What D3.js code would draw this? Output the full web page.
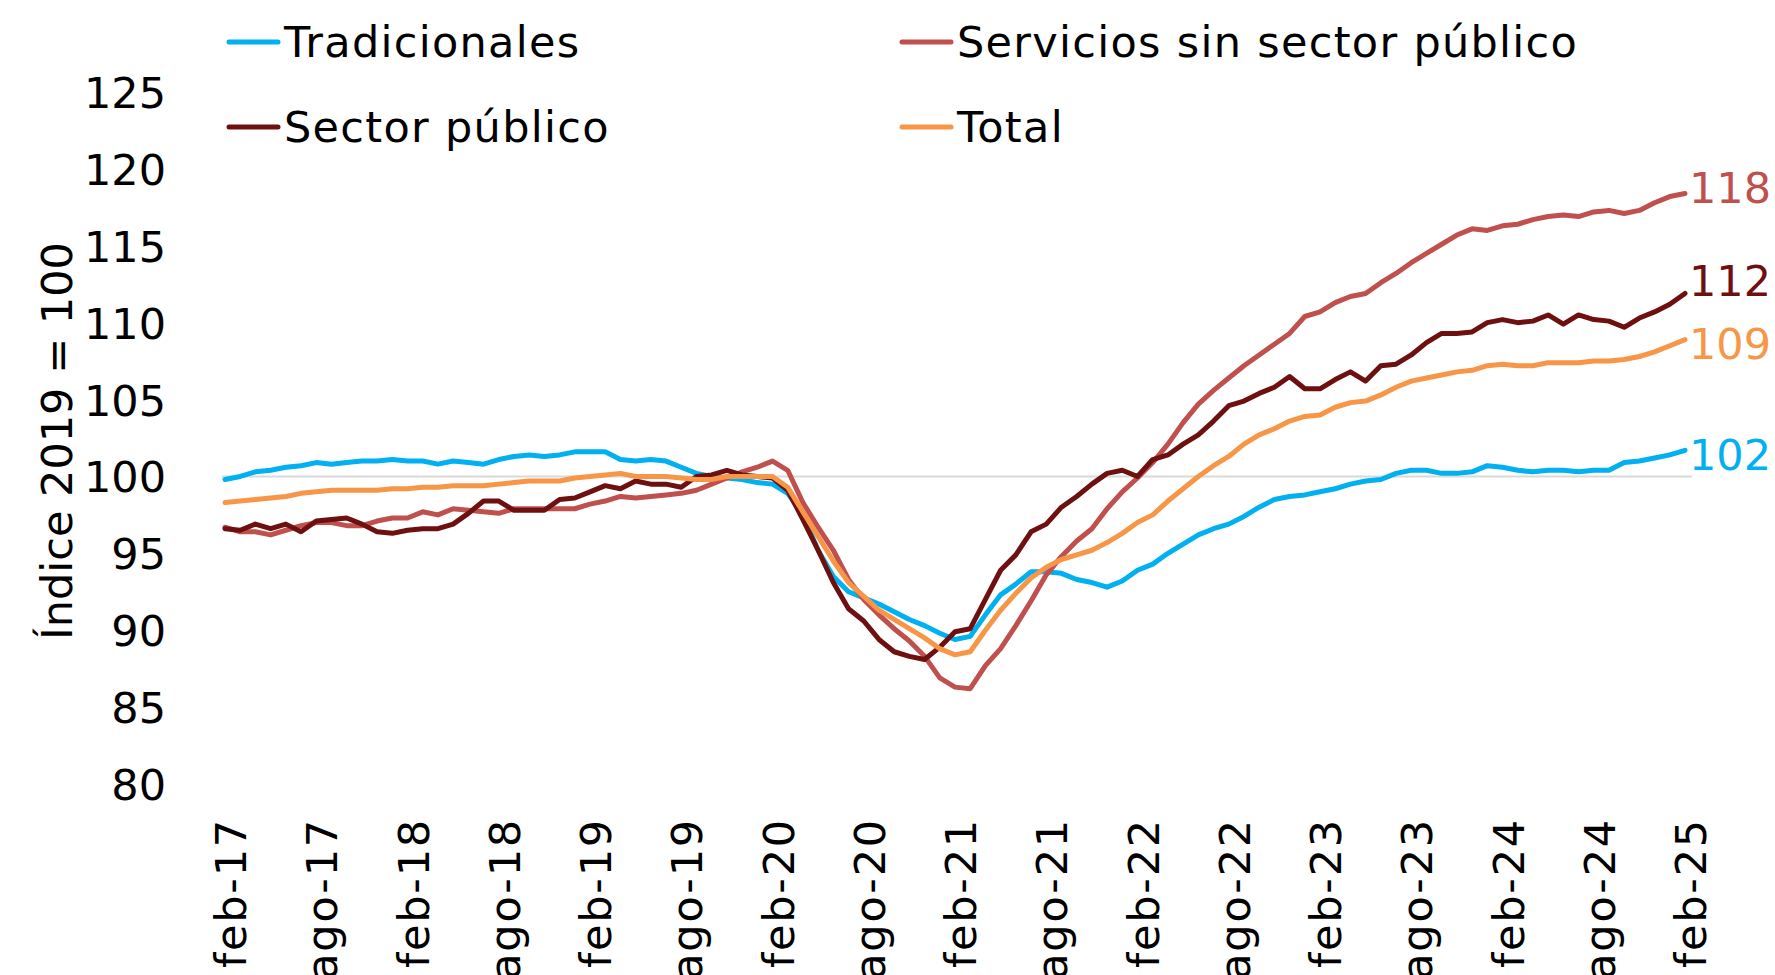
<!DOCTYPE html>
<html lang="es">
<head>
    <meta charset="UTF-8">
    <title>Índice 2019 = 100</title>
    <script src="https://d3js.org/d3.v7.min.js"></script>
    <style>
        body { margin: 0; background: #fff; }
        svg { display: block; font-family: "DejaVu Sans", sans-serif; }
    </style>
</head>
<body>
    <svg id="chart"></svg>

    <script>
        // meses: feb-17 ... feb-25
        const monthAbbr = ["ene", "feb", "mar", "abr", "may", "jun", "jul", "ago", "sep", "oct", "nov", "dic"];
        const firstYear = 2017, firstMonth = 1, nMonths = 97;
        const categories = [];
        for (let k = 0; k < nMonths; k++) {
            const m = (firstMonth + k) % 12;
            const y = firstYear + Math.floor((firstMonth + k) / 12);
            categories.push(`${monthAbbr[m]}-${String(y).slice(2)}`);
        }

        const tickLabels = ["feb-17", "ago-17", "feb-18", "ago-18", "feb-19", "ago-19", "feb-20", "ago-20",
            "feb-21", "ago-21", "feb-22", "ago-22", "feb-23", "ago-23", "feb-24", "ago-24", "feb-25"];
        const yTicks = [80, 85, 90, 95, 100, 105, 110, 115, 120, 125];

        const tradicionales = [
            99.8, 100.0, 100.3, 100.4, 100.6, 100.7, 100.9, 100.8, 100.9, 101.0,
            101.0, 101.1, 101.0, 101.0, 100.8, 101.0, 100.9, 100.8, 101.1, 101.3,
            101.4, 101.3, 101.4, 101.6, 101.6, 101.6, 101.1, 101.0, 101.1, 101.0,
            100.6, 100.2, 100.0, 99.9, 99.8, 99.6, 99.5, 98.9, 97.5, 95.2,
            93.5, 92.5, 92.1, 91.7, 91.2, 90.7, 90.3, 89.8, 89.4, 89.6,
            91.0, 92.3, 93.0, 93.8, 93.8, 93.7, 93.3, 93.1, 92.8, 93.2,
            93.9, 94.3, 95.0, 95.6, 96.2, 96.6, 96.9, 97.4, 98.0, 98.5,
            98.7, 98.8, 99.0, 99.2, 99.5, 99.7, 99.8, 100.2, 100.4, 100.4,
            100.2, 100.2, 100.3, 100.7, 100.6, 100.4, 100.3, 100.4, 100.4, 100.3,
            100.4, 100.4, 100.9, 101.0, 101.2, 101.4, 101.7
        ];
        const servicios = [
            96.7, 96.4, 96.4, 96.2, 96.5, 96.8, 97.0, 97.0, 96.8, 96.8,
            97.1, 97.3, 97.3, 97.7, 97.5, 97.9, 97.8, 97.7, 97.6, 97.9,
            97.9, 97.9, 97.9, 97.9, 98.2, 98.4, 98.7, 98.6, 98.7, 98.8,
            98.9, 99.1, 99.5, 99.9, 100.3, 100.6, 101.0, 100.4, 98.3, 96.7,
            95.2, 93.3, 92.0, 91.0, 90.1, 89.3, 88.3, 86.9, 86.3, 86.2,
            87.7, 88.8, 90.3, 91.9, 93.6, 94.8, 95.8, 96.6, 97.9, 99.0,
            99.9, 100.9, 102.1, 103.5, 104.7, 105.6, 106.4, 107.2, 107.9, 108.6,
            109.3, 110.4, 110.7, 111.3, 111.7, 111.9, 112.6, 113.2, 113.9, 114.5,
            115.1, 115.7, 116.1, 116.0, 116.3, 116.4, 116.7, 116.9, 117.0, 116.9,
            117.2, 117.3, 117.1, 117.3, 117.8, 118.2, 118.4
        ];
        const sectorPublico = [
            96.6, 96.5, 96.9, 96.6, 96.9, 96.4, 97.1, 97.2, 97.3, 96.9,
            96.4, 96.3, 96.5, 96.6, 96.6, 96.9, 97.6, 98.4, 98.4, 97.8,
            97.8, 97.8, 98.5, 98.6, 99.0, 99.4, 99.2, 99.7, 99.5, 99.5,
            99.3, 100.0, 100.1, 100.4, 100.1, 100.0, 99.9, 99.1, 97.2, 95.2,
            93.1, 91.4, 90.6, 89.4, 88.6, 88.3, 88.1, 88.9, 89.9, 90.1,
            92.0, 93.9, 94.9, 96.4, 96.9, 98.0, 98.7, 99.5, 100.2, 100.4,
            100.0, 101.1, 101.4, 102.1, 102.7, 103.6, 104.6, 104.9, 105.4, 105.8,
            106.5, 105.7, 105.7, 106.3, 106.8, 106.2, 107.2, 107.3, 107.9, 108.7,
            109.3, 109.3, 109.4, 110.0, 110.2, 110.0, 110.1, 110.5, 109.9, 110.5,
            110.2, 110.1, 109.7, 110.3, 110.7, 111.2, 111.9
        ];
        const total = [
            98.3, 98.4, 98.5, 98.6, 98.7, 98.9, 99.0, 99.1, 99.1, 99.1,
            99.1, 99.2, 99.2, 99.3, 99.3, 99.4, 99.4, 99.4, 99.5, 99.6,
            99.7, 99.7, 99.7, 99.9, 100.0, 100.1, 100.2, 100.0, 100.0, 100.0,
            99.9, 99.8, 99.8, 100.0, 100.0, 100.0, 100.0, 99.3, 97.7, 96.1,
            94.5, 93.1, 92.2, 91.3, 90.7, 90.1, 89.5, 88.8, 88.4, 88.6,
            90.0, 91.3, 92.4, 93.4, 94.1, 94.6, 94.9, 95.2, 95.7, 96.3,
            97.0, 97.5, 98.4, 99.2, 100.0, 100.7, 101.3, 102.1, 102.7, 103.1,
            103.6, 103.9, 104.0, 104.5, 104.8, 104.9, 105.3, 105.8, 106.2, 106.4,
            106.6, 106.8, 106.9, 107.2, 107.3, 107.2, 107.2, 107.4, 107.4, 107.4,
            107.5, 107.5, 107.6, 107.8, 108.1, 108.5, 108.9
        ];

        const series = [
            { name: "Tradicionales", values: tradicionales, color: "#00B0F0", dy: 4 },
            { name: "Servicios sin sector público", values: servicios, color: "#C0504D", dy: -6 },
            { name: "Sector público", values: sectorPublico, color: "#6E1010", dy: -13 },
            { name: "Total", values: total, color: "#F79646", dy: 4 }
        ];

        const width = 1775, height = 975;
        const margin = { left: 225, right: 90, top: 92, bottom: 191 };
        const fs = 43;

        const svg = d3.select("#chart")
            .attr("width", width)
            .attr("height", height);

        const x = d3.scalePoint()
            .domain(categories)
            .range([margin.left, width - margin.right]);

        const y = d3.scaleLinear()
            .domain([80, 125])
            .range([height - margin.bottom, margin.top]);

        // linea base 100
        svg.append("line")
            .attr("x1", x(categories[0]) - 3)
            .attr("x2", x(categories[categories.length - 1]) + 7)
            .attr("y1", y(100))
            .attr("y2", y(100))
            .attr("stroke", "#D9D9D9")
            .attr("stroke-width", 2);

        // eje Y
        const yAxis = svg.append("g")
            .attr("transform", `translate(${margin.left},0)`)
            .call(d3.axisLeft(y).tickValues(yTicks).tickSize(0).tickPadding(59));
        yAxis.select(".domain").remove();
        yAxis.selectAll("text")
            .attr("font-family", "DejaVu Sans")
            .attr("font-size", fs)
            .attr("fill", "#000")
            .attr("dy", "0.36em");

        // eje X
        const xAxis = svg.append("g")
            .attr("transform", `translate(0,${height - margin.bottom})`)
            .call(d3.axisBottom(x).tickValues(tickLabels).tickSize(0));
        xAxis.select(".domain").remove();
        xAxis.selectAll("text")
            .attr("font-family", "DejaVu Sans")
            .attr("font-size", fs)
            .attr("letter-spacing", "1.8px")
            .attr("fill", "#000")
            .attr("text-anchor", "end")
            .attr("x", 0)
            .attr("y", 0)
            .attr("dy", "0.48em")
            .attr("transform", "translate(0,34) rotate(-90)");

        // titulo eje Y
        svg.append("text")
            .attr("transform", `translate(72,441) rotate(-90)`)
            .attr("text-anchor", "middle")
            .attr("font-size", fs)
            .attr("fill", "#000")
            .text("Índice 2019 = 100");

        // lineas
        const line = d3.line()
            .x((d, i) => x(categories[i]))
            .y(d => y(d));

        svg.selectAll(".serie")
            .data(series)
            .enter()
            .append("path")
            .attr("class", "serie")
            .attr("d", d => line(d.values))
            .attr("fill", "none")
            .attr("stroke", d => d.color)
            .attr("stroke-width", 5)
            .attr("stroke-linejoin", "round")
            .attr("stroke-linecap", "round");

        // etiquetas finales
        svg.selectAll(".end-label")
            .data(series)
            .enter()
            .append("text")
            .attr("class", "end-label")
            .attr("x", x(categories[categories.length - 1]) + 4)
            .attr("y", d => y(d.values[d.values.length - 1]) + d.dy)
            .attr("dy", "0.36em")
            .attr("font-size", fs)
            .attr("fill", d => d.color)
            .text(d => Math.round(d.values[d.values.length - 1]));

        // leyenda
        const legendPos = [
            { lx: 229, ly: 42 }, { lx: 902, ly: 42 },
            { lx: 229, ly: 127 }, { lx: 902, ly: 127 }
        ];
        const legend = svg.selectAll(".legend")
            .data(series)
            .enter()
            .append("g")
            .attr("class", "legend")
            .attr("transform", (d, i) => `translate(${legendPos[i].lx},${legendPos[i].ly})`);
        legend.append("line")
            .attr("x1", 0).attr("x2", 49)
            .attr("stroke", d => d.color)
            .attr("stroke-width", 5)
            .attr("stroke-linecap", "round");
        legend.append("text")
            .attr("x", 55)
            .attr("dy", "0.36em")
            .attr("font-size", fs)
            .attr("letter-spacing", "1.3px")
            .attr("fill", "#000")
            .text(d => d.name);
    </script>
</body>
</html>
